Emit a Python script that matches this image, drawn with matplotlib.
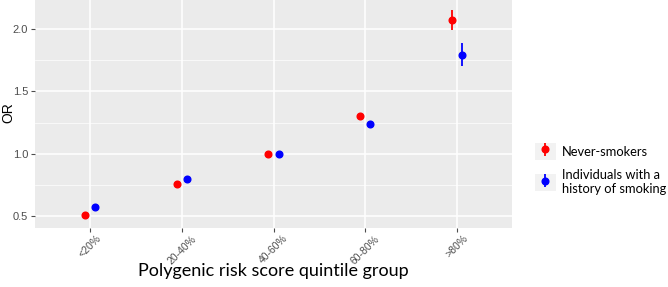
import matplotlib
matplotlib.use("Agg")
import matplotlib.pyplot as plt
import numpy as np
from matplotlib.patches import Rectangle
from matplotlib.legend_handler import HandlerTuple
from matplotlib.ticker import MultipleLocator

categories = ["<20%", "20-40%", "40-60%", "60-80%", ">80%"]
never_or = [0.51, 0.76, 1.00, 1.30, 2.07]
never_lo = [0.49, 0.74, 1.00, 1.28, 1.99]
never_hi = [0.53, 0.78, 1.00, 1.32, 2.15]
smoke_or = [0.57, 0.80, 1.00, 1.24, 1.79]
smoke_lo = [0.55, 0.78, 1.00, 1.22, 1.70]
smoke_hi = [0.60, 0.82, 1.00, 1.26, 1.89]

fig = plt.figure(figsize=(6.68, 2.87), dpi=100)
ax = fig.add_axes([35/668, 1-228/287, (512-35)/668, 228/287])
ax.set_facecolor("#EBEBEB")
for s in ax.spines.values():
    s.set_visible(False)

x = np.arange(1, len(categories)+1)
dodge = 0.055
red = ax.errorbar(x - dodge, never_or,
                  yerr=[np.array(never_or)-np.array(never_lo), np.array(never_hi)-np.array(never_or)],
                  fmt='o', color='#FF0000', ms=4.8, elinewidth=1.3, capsize=0, zorder=3)
blue = ax.errorbar(x + dodge, smoke_or,
                   yerr=[np.array(smoke_or)-np.array(smoke_lo), np.array(smoke_hi)-np.array(smoke_or)],
                   fmt='o', color='#0000FF', ms=4.8, elinewidth=1.3, capsize=0, zorder=3)

ax.set_xlim(0.4, 5.6)
ax.set_ylim(0.404, 2.233)
ax.set_xticks(x)
ax.set_xticklabels(categories, rotation=45, ha='center', va='top',
                   fontsize=7.5, color='#4D4D4D', family='Liberation Sans')
ax.yaxis.set_major_locator(MultipleLocator(0.5))
ax.yaxis.set_minor_locator(MultipleLocator(0.25))
ax.yaxis.set_major_formatter(matplotlib.ticker.FormatStrFormatter('%.1f'))
for lab in ax.get_yticklabels():
    lab.set_family('Liberation Sans')
ax.tick_params(axis='y', which='major', labelsize=8, colors='#4D4D4D', length=3, width=0.8, pad=2)
ax.tick_params(axis='y', which='minor', length=0)
ax.tick_params(axis='x', length=3, width=0.8, colors='#4D4D4D', pad=1)
ax.grid(True, which='major', color='white', lw=1.1)
ax.grid(True, which='minor', axis='y', color='white', lw=0.5)
ax.set_axisbelow(True)

fig.text(8/668, 1-113/287, "OR", rotation=90, ha='center', va='center',
         fontsize=10, family='Liberation Sans')
fig.text((35+512)/2/668, 1-271/287, "Polygenic risk score quintile group",
         ha='center', va='center', fontsize=13, family='Lato')

bg1 = Rectangle((0, 0), 1, 1, facecolor='#F2F2F2', edgecolor='none')
bg2 = Rectangle((0, 0), 1, 1, facecolor='#F2F2F2', edgecolor='none')
leg = fig.legend([(bg1, red), (bg2, blue)],
                 ["Never-smokers", "Individuals with a\nhistory of smoking"],
                 handler_map={tuple: HandlerTuple(ndivide=1, pad=0)},
                 loc='center left', bbox_to_anchor=(526/668, 1-169/287),
                 frameon=False, prop={'family': 'Lato', 'size': 9.3},
                 handlelength=1.6, handleheight=1.6, handletextpad=0.5,
                 labelspacing=0.7, borderpad=0.2)

fig.savefig("out.png", dpi=100)
